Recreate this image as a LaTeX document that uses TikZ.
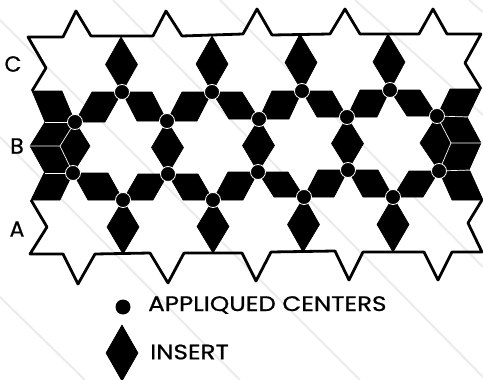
\documentclass[tikz,border=0pt]{standalone}
\usepackage{fontspec}
\newfontfamily\lett[RawFeature={embolden=0.8}]{Poppins}
\usetikzlibrary{calc}
\tikzset{
 streak/.style={draw=black!8,line width=2pt},
 outline/.style={draw=black,line width=2.8pt,line join=round},
 rhomb/.style={fill=black,draw=black,line width=.6pt,line join=round},
 seam/.style={draw=white,line width=.7pt},
 center/.style={circle,fill=black,draw=white,line width=.8pt,minimum size=15pt,inner sep=0pt},
 lab/.style={font=\lett\fontsize{22}{22}\selectfont,text=black,inner sep=0pt},
 legend/.style={font=\lett\fontsize{21}{21}\selectfont,text=black,inner sep=0pt,anchor=west,xscale=1.17}
}
\newcommand{\vdia}[2]{\fill[rhomb] (#1) -- ($(#1)!.5!(#2)+(16,0)$) -- (#2) -- ($(#1)!.5!(#2)+(-16,0)$) -- cycle;}
\newcommand{\prl}[3]{\fill[rhomb] (#1) -- ++(#3,0) -- (#2) -- ++(-#3,0) -- cycle;}
\begin{document}
\begin{tikzpicture}[x=1pt,y=-1pt]
\useasboundingbox (0,0) rectangle (483,380);
% faint diagonal streaks
\foreach \a/\b/\c/\d in {0/137/240/380,0/297/85/380,0/20/360/380,113/0/483/377,220/0/483/267,355/0/483/115,469/0/483/12}
  \draw[streak] (\a,\b) -- (\c,\d);
% outlines
\draw[outline] (32,91) -- (46,68) -- (28,37) -- (63,37) -- (76,11) -- (91,36) -- (153,36) -- (166,11) -- (182,36) -- (243,34) -- (257,9) -- (272,35) -- (330,34) -- (345,9) -- (360,34) -- (419,34) -- (433,9) -- (447,34) -- (481,34) -- (465,63) -- (481,89);
\draw[outline] (31,200) -- (47,227) -- (30,254) -- (63,254) -- (78,284) -- (95,254) -- (150,253) -- (168,283) -- (184,253) -- (242,253) -- (256,281) -- (271,252) -- (335,251) -- (349,280) -- (363,252) -- (424,252) -- (438,280) -- (452,252) -- (482,252) -- (468,223) -- (482,200);
% joints
\foreach \n/\x/\y in {u1/122/92,u2/212/92,u3/302/91,u4/390/90,
 m1/75/122,m2/167/121,m3/259/119,m4/347/117,m5/437/116,
 n1/73/173,n2/168/174,n3/258/172,n4/348/170,n5/439/171,
 d1/123/200,d2/213/200,d3/304/197,d4/393/197,
 t1/121/37,t2/212/36,t3/300/34,t4/388/34,
 b1/123/254,b2/213/253,b3/303/252,b4/393/252,
 ltop/32/91,lbot/31/200,rtop/481/89,rbot/483/200,
 lc/60/146,lw/30/146,le/90/146,rc/451/143,re/481/143,rw/420/143}
  \coordinate (\n) at (\x,\y);
% vertical inserts
\vdia{t1}{u1}\vdia{t2}{u2}\vdia{t3}{u3}\vdia{t4}{u4}
\vdia{m2}{n2}\vdia{m3}{n3}\vdia{m4}{n4}
\vdia{d1}{b1}\vdia{d2}{b2}\vdia{d3}{b3}\vdia{d4}{b4}
% upper row
\prl{ltop}{m1}{30}
\prl{u1}{m1}{-30}\prl{u1}{m2}{30}
\prl{u2}{m2}{-30}\prl{u2}{m3}{30}
\prl{u3}{m3}{-30}\prl{u3}{m4}{30}
\prl{u4}{m4}{-30}\prl{u4}{m5}{30}
\prl{rtop}{m5}{-31}
% lower row
\prl{lbot}{n1}{29}
\prl{d1}{n1}{-35}\prl{d1}{n2}{30}
\prl{d2}{n2}{-30}\prl{d2}{n3}{30}
\prl{d3}{n3}{-30}\prl{d3}{n4}{30}
\prl{d4}{n4}{-30}\prl{d4}{n5}{30}
\prl{rbot}{n5}{-31}
% side hexagons
\fill[rhomb] (lw) -- (45,122) -- (m1) -- (le) -- (n1) -- (45,173) -- cycle;
\fill[rhomb] (rw) -- (m5) -- (467,117) -- (re) -- (469,170) -- (n5) -- cycle;
\draw[seam] (lw) -- (lc) -- (m1);
\draw[seam] (lc) -- (n1);
\draw[seam] (45,122) -- (m1);
\draw[seam] (45,173) -- (n1);
\draw[seam] (re) -- (rc) -- (m5);
\draw[seam] (rc) -- (n5);
\draw[seam] (m5) -- (467,117);
\draw[seam] (n5) -- (469,170);
% applique centers
\foreach \n in {u1,u2,u3,u4,m1,m2,m3,m4,m5,n1,n2,n3,n4,n5,d1,d2,d3,d4}
  \node[center] (c\n) at (\n) {};
% letters
\node[lab] (lC) at (13,64) {C};
\node[lab] (lB) at (17,146) {B};
\node[lab] (lA) at (17,229) {A};
% legend
\node[circle,fill=black,minimum size=15pt,inner sep=0pt] (kc) at (123,307) {};
\node[legend] (kt) at (148,305) {APPLIQUED CENTERS};
\coordinate (ka) at (122,325); \coordinate (kb) at (122,381);
\vdia{ka}{kb}
\node[legend] (ki) at (150,352) {INSERT};
\end{tikzpicture}
\end{document}
